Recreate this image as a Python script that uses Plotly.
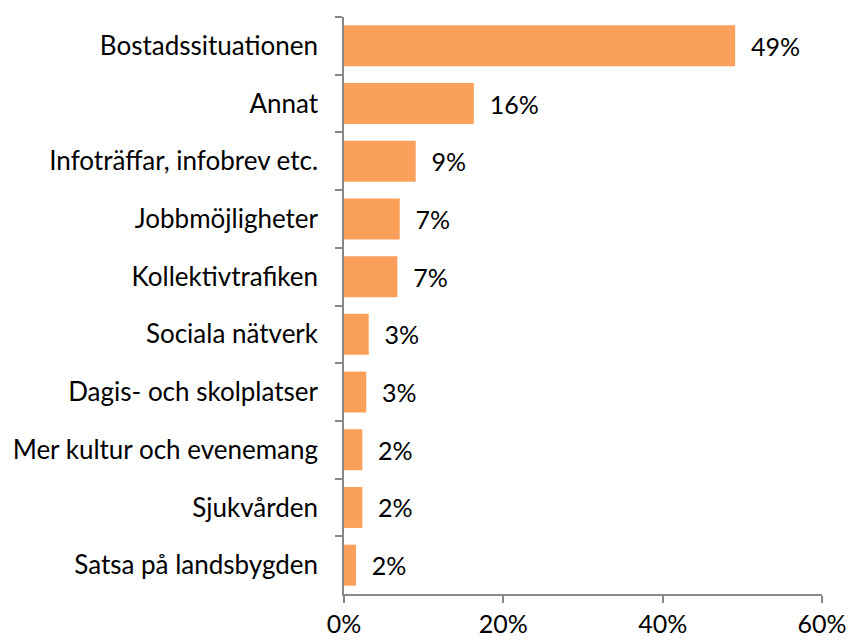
import plotly.graph_objects as go

categories = ["Bostadssituationen", "Annat", "Infoträffar, infobrev etc.", "Jobbmöjligheter",
              "Kollektivtrafiken", "Sociala nätverk", "Dagis- och skolplatser",
              "Mer kultur och evenemang", "Sjukvården", "Satsa på landsbygden"]
values = [49.1, 16.3, 9.0, 7.0, 6.7, 3.1, 2.8, 2.3, 2.3, 1.5]
value_labels = ["49%", "16%", "9%", "7%", "7%", "3%", "3%", "2%", "2%", "2%"]
tick_vals = [0, 20, 40, 60]
tick_text = ["0%", "20%", "40%", "60%"]

FONT = "Lato"
FS = 26
AXIS = "#878787"

fig = go.Figure(go.Bar(
    x=values, y=categories, orientation="h",
    marker=dict(color="#FBA05A", line=dict(width=0)),
    text=["  " + t for t in value_labels], textposition="outside",
    textfont=dict(family=FONT, size=FS - 1, color="#000000"),
    cliponaxis=False,
))

fig.update_layout(
    width=848, height=640,
    margin=dict(l=344, r=26, t=17, b=46),
    plot_bgcolor="white", paper_bgcolor="white",
    bargap=0.29, showlegend=False,
    font=dict(family=FONT, size=FS, color="#000000"),
)
fig.update_xaxes(
    range=[0, 60], tickvals=tick_vals, ticktext=tick_text,
    showgrid=False, zeroline=False, showline=True, linecolor=AXIS, linewidth=1.5,
    ticks="outside", ticklen=7, tickcolor=AXIS, tickwidth=1.5,
    tickfont=dict(family=FONT, size=FS - 1, color="#000000"),
    automargin=False,
)
fig.update_yaxes(
    autorange="reversed", showgrid=False, zeroline=False,
    showline=True, linecolor=AXIS, linewidth=1.5,
    ticks="outside", ticklen=7, tickcolor=AXIS, tickwidth=1.5,
    tickson="boundaries", ticklabelstandoff=19,
    tickfont=dict(family=FONT, size=FS, color="#000000"),
    automargin=False,
)

fig.write_html("out.html", config={"displayModeBar": False},
               post_script="document.body.style.margin='0';")
